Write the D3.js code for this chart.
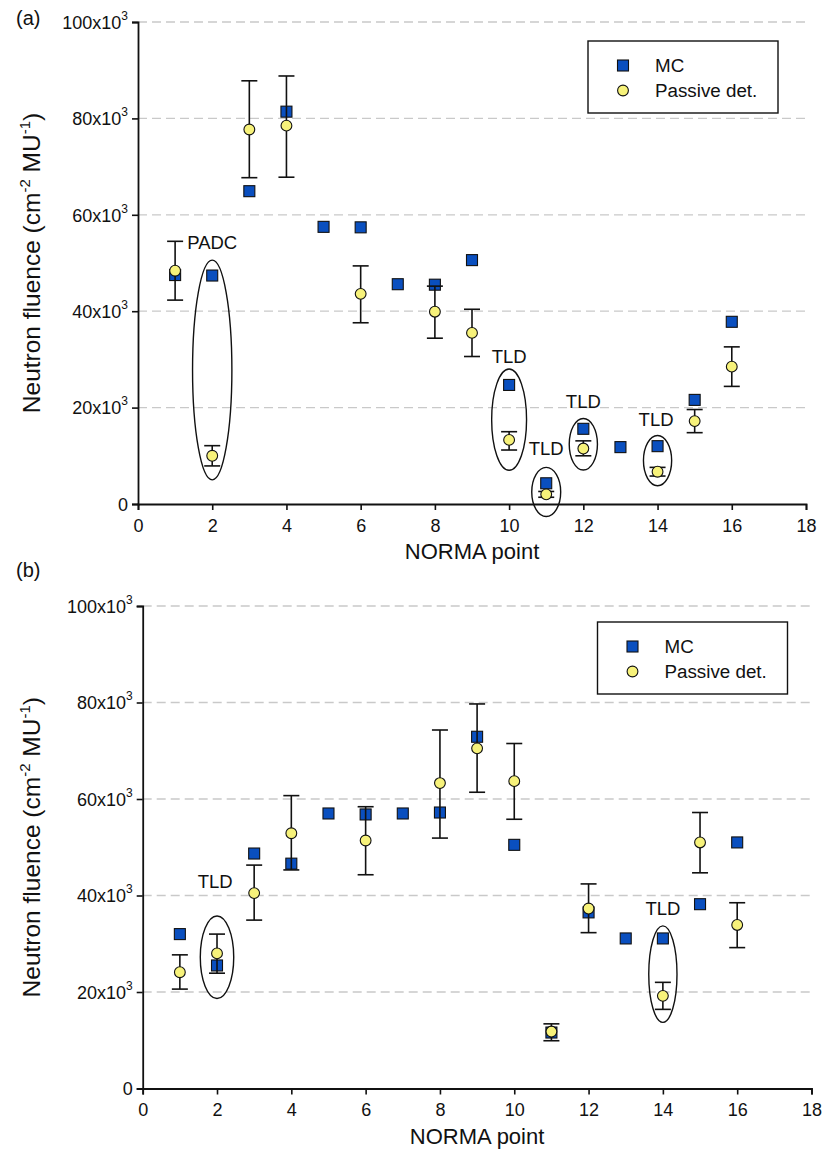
<!DOCTYPE html>
<html>
<head>
<meta charset="utf-8">
<script src="https://cdn.jsdelivr.net/npm/d3@7"></script>
<style>
  html, body { margin: 0; padding: 0; background: #fff; }
  svg { display: block; }
  text { font-family: "Liberation Sans", Arial, Helvetica, sans-serif; fill: #111; }
</style>
</head>
<body>
<svg id="chart" width="824" height="1149"></svg>
<script>
// ---------------- DATA ----------------
const points = [1, 2, 3, 4, 5, 6, 7, 8, 9, 10, 11, 12, 13, 14, 15, 16];
const xTicks = [0, 2, 4, 6, 8, 10, 12, 14, 16, 18];
const yTicks = [0, 20000, 40000, 60000, 80000, 100000];
const gridValues = [20000, 40000, 60000, 80000, 100000];
const legendLabels = ["MC", "Passive det."];
const xTitle = "NORMA point";

// Panel (a)
const mcA      = [47500, 47400, 64900, 81400, 57500, 57400, 45600, 45500, 50600, 24700, 4300, 15600, 11800, 12000, 21600, 37800];
const passiveA = [48400, 10000, 77700, 78500, null, 43600, null, 39900, 35500, 13300, 2000, 11500, null, 6700, 17200, 28500];
const errLowA  = [42300, 7900, 67700, 67800, null, 37600, null, 34400, 30600, 11200, 1400, 10000, null, 5800, 14800, 24400];
const errHighA = [54500, 12100, 87800, 88800, null, 49400, null, 45200, 40400, 15000, 2600, 13100, null, 7600, 19600, 32600];
// annotation ellipses: centre point, centre value, half-width (points), half-height (value)
const ellipsesA = [
  { x: 2,  y: 27800, rx: 0.53, ry: 22800 },
  { x: 10, y: 17500, rx: 0.47, ry: 10500 },
  { x: 11, y: 2500,  rx: 0.39, ry: 5100 },
  { x: 12, y: 12400, rx: 0.38, ry: 5350 },
  { x: 14, y: 9000,  rx: 0.38, ry: 5200 }
];
const labelsA = [
  { x: 2.0,  y: 52900, text: "PADC" },
  { x: 10.0, y: 29300, text: "TLD" },
  { x: 11.0, y: 10200, text: "TLD" },
  { x: 12.0, y: 19900, text: "TLD" },
  { x: 13.96, y: 16200, text: "TLD" }
];

// Panel (b)
const mcB      = [32000, 25500, 48700, 46600, 57000, 56800, 57000, 57200, 72900, 50500, 11600, 36500, 31100, 31100, 38200, 51000];
const passiveB = [24100, 28000, 40500, 52900, null, 51400, null, 63300, 70500, 63700, 11800, 37300, null, 19200, 51000, 33900];
const errLowB  = [20600, 23900, 34900, 45300, null, 44300, null, 51900, 61400, 55800, 9900, 32300, null, 16400, 44700, 29200];
const errHighB = [27700, 32000, 46300, 60700, null, 58400, null, 74300, 79700, 71500, 13400, 42400, null, 22000, 57200, 38500];
const ellipsesB = [
  { x: 2,  y: 27200, rx: 0.45, ry: 8550 },
  { x: 14, y: 23700, rx: 0.38, ry: 10000 }
];
const labelsB = [
  { x: 1.95, y: 41500, text: "TLD" },
  { x: 14.0, y: 36000, text: "TLD" }
];

// ---------------- DRAW ----------------
const svg = d3.select("#chart");
const BLUE = "#0a4fbf";
const YELLOW = "#f7f27a";

function drawPanel(cfg) {
  const W = cfg.x1 - cfg.x0, H = cfg.y0 - cfg.y1;
  const g = svg.append("g").attr("transform", `translate(${cfg.x0},${cfg.y1})`);
  const x = d3.scaleLinear().domain([0, 18]).range([0, W]);
  const y = d3.scaleLinear().domain([0, 100000]).range([H, 0]);

  // panel letter
  svg.append("text").attr("x", 16).attr("y", cfg.y1 + cfg.letterDy)
    .attr("font-size", 20).text(cfg.letter);

  // grid
  g.append("g").selectAll("line").data(gridValues).join("line")
    .attr("x1", 0).attr("x2", W)
    .attr("y1", d => y(d)).attr("y2", d => y(d))
    .attr("stroke", "#c9c9c9").attr("stroke-width", 1.3)
    .attr("stroke-dasharray", "9,5");

  // axes
  const xAxis = g.append("g").attr("transform", `translate(0,${H})`)
    .call(d3.axisBottom(x).tickValues(xTicks).tickSize(6).tickPadding(9).tickFormat(d3.format("d")));
  const yAxis = g.append("g")
    .call(d3.axisLeft(y).tickValues(yTicks).tickSize(6).tickPadding(4).tickFormat(""));
  [xAxis, yAxis].forEach(a => {
    a.select(".domain").attr("stroke", "#111").attr("stroke-width", 1.8);
    a.selectAll(".tick line").attr("stroke", "#111").attr("stroke-width", 1.6);
    a.selectAll("text").attr("font-size", 18).attr("fill", "#111")
      .attr("font-family", '"Liberation Sans", Arial, sans-serif');
  });
  // y tick labels with superscript
  yAxis.selectAll(".tick").each(function(d) {
    const t = d3.select(this).select("text");
    t.text(null).attr("x", -10).attr("dy", "0.35em").attr("text-anchor", "end");
    if (d === 0) { t.text("0"); }
    else {
      t.append("tspan").text((d / 1000) + "x10");
      t.append("tspan").attr("font-size", 12).attr("dy", "-0.75em").text("3");
    }
  });

  // axis titles
  g.append("text").attr("x", W / 2).attr("y", H + 55)
    .attr("text-anchor", "middle").attr("font-size", 22).text(xTitle);
  const yt = g.append("text")
    .attr("transform", `translate(${40 - cfg.x0},${H / 2}) rotate(-90)`)
    .attr("text-anchor", "middle").attr("font-size", 24.5);
  yt.append("tspan").text("Neutron fluence (cm");
  yt.append("tspan").attr("font-size", 15).attr("dy", -10).text("-2");
  yt.append("tspan").attr("dy", 10).text(" MU");
  yt.append("tspan").attr("font-size", 15).attr("dy", -10).text("-1");
  yt.append("tspan").attr("dy", 10).text(")");

  // annotation ellipses
  g.append("g").selectAll("ellipse").data(cfg.ellipses).join("ellipse")
    .attr("cx", d => x(d.x)).attr("cy", d => y(d.y))
    .attr("rx", d => x(d.rx) - x(0)).attr("ry", d => y(0) - y(d.ry))
    .attr("fill", "none").attr("stroke", "#111").attr("stroke-width", 1.4);

  // annotation labels
  g.append("g").selectAll("text").data(cfg.labels).join("text")
    .attr("x", d => x(d.x)).attr("y", d => y(d.y))
    .attr("text-anchor", "middle").attr("font-size", 18.5).text(d => d.text);

  const rows = points.map((p, i) => ({ p, mc: cfg.mc[i], pas: cfg.pas[i], lo: cfg.lo[i], hi: cfg.hi[i] }));
  const S = 11;

  // MC squares
  g.append("g").selectAll("rect").data(rows.filter(r => r.mc != null)).join("rect")
    .attr("x", d => x(d.p) - S / 2).attr("y", d => y(d.mc) - S / 2)
    .attr("width", S).attr("height", S)
    .attr("fill", BLUE).attr("stroke", "#111").attr("stroke-width", 1.1);

  // error bars
  const eb = g.append("g").selectAll("g").data(rows.filter(r => r.lo != null)).join("g")
    .attr("stroke", "#111").attr("stroke-width", 1.6);
  eb.append("line").attr("x1", d => x(d.p)).attr("x2", d => x(d.p))
    .attr("y1", d => y(d.lo)).attr("y2", d => y(d.hi));
  eb.append("line").attr("x1", d => x(d.p) - 8).attr("x2", d => x(d.p) + 8)
    .attr("y1", d => y(d.lo)).attr("y2", d => y(d.lo));
  eb.append("line").attr("x1", d => x(d.p) - 8).attr("x2", d => x(d.p) + 8)
    .attr("y1", d => y(d.hi)).attr("y2", d => y(d.hi));

  // passive circles
  g.append("g").selectAll("circle").data(rows.filter(r => r.pas != null)).join("circle")
    .attr("cx", d => x(d.p)).attr("cy", d => y(d.pas)).attr("r", 5.4)
    .attr("fill", YELLOW).attr("stroke", "#111").attr("stroke-width", 1.1);

  // legend
  const lg = svg.append("g").attr("transform", `translate(${cfg.legX},${cfg.legY})`);
  lg.append("rect").attr("width", 190).attr("height", 72)
    .attr("fill", "#fff").attr("stroke", "#111").attr("stroke-width", 1.4);
  lg.append("rect").attr("x", 35 - S / 2).attr("y", 24.5 - S / 2).attr("width", S).attr("height", S)
    .attr("fill", BLUE).attr("stroke", "#111").attr("stroke-width", 1.1);
  lg.append("circle").attr("cx", 35).attr("cy", 49.5).attr("r", 5.4)
    .attr("fill", YELLOW).attr("stroke", "#111").attr("stroke-width", 1.1);
  lg.selectAll("text.leg").data(legendLabels).join("text").attr("class", "leg")
    .attr("x", 67).attr("y", (d, i) => 30.5 + i * 25)
    .attr("font-size", 18.8).text(d => d);
}

drawPanel({ letter: "(a)", letterDy: 3, x0: 138, x1: 806, y1: 22, y0: 504,
  mc: mcA, pas: passiveA, lo: errLowA, hi: errHighA, ellipses: ellipsesA, labels: labelsA,
  legX: 588, legY: 41 });
drawPanel({ letter: "(b)", letterDy: -29, x0: 142.7, x1: 811.5, y1: 606, y0: 1088.5,
  mc: mcB, pas: passiveB, lo: errLowB, hi: errHighB, ellipses: ellipsesB, labels: labelsB,
  legX: 597.5, legY: 622 });
</script>
</body>
</html>
